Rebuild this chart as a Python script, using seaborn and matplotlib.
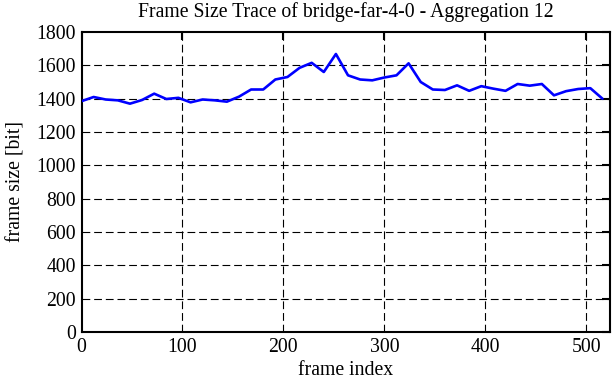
import matplotlib
matplotlib.use("Agg")
import matplotlib.pyplot as plt
import seaborn as sns
import pandas as pd

# frame size trace, aggregated over 12 frames
frame_index = list(range(0, 528, 12))
frame_size = [1385, 1410, 1395, 1390, 1370, 1392, 1430, 1398, 1405, 1378,
              1395, 1390, 1382, 1412, 1455, 1455, 1515, 1530, 1585, 1615,
              1560, 1668, 1540, 1515, 1510, 1527, 1540, 1612, 1500, 1455,
              1452, 1480, 1447, 1475, 1460, 1447, 1488, 1478, 1488, 1420,
              1445, 1458, 1463, 1400]

x_ticks = [0, 100, 200, 300, 400, 500]
y_ticks = [0, 200, 400, 600, 800, 1000, 1200, 1400, 1600, 1800]

df = pd.DataFrame({"frame index": frame_index, "frame size [bit]": frame_size})

sns.set_theme(style="white")
plt.rcParams["font.family"] = ["Liberation Serif", "DejaVu Serif"]
plt.rcParams["text.color"] = "black"
plt.rcParams["axes.labelcolor"] = "black"
fs = 14.2

fig = plt.figure(figsize=(6.12, 3.82), dpi=100)
ax = fig.add_axes([81.5 / 612, 50 / 382, 528 / 612, 300 / 382])

sns.lineplot(data=df, x="frame index", y="frame size [bit]", ax=ax,
             color="#0000ff", linewidth=1.9, zorder=3)

ax.set_xlim(0, 523)
ax.set_ylim(0, 1800)
ax.set_xticks(x_ticks)
ax.set_yticks(y_ticks)

# gnuplot style dashed grid, skipping the border lines
for xv in x_ticks[1:]:
    ax.axvline(xv, color="black", lw=0.8, dashes=(7, 3.5), zorder=1)
for yv in y_ticks[1:-1]:
    ax.axhline(yv, color="black", lw=0.8, dashes=(7, 3.5), zorder=1)

for s in ax.spines.values():
    s.set_linewidth(1.5)
    s.set_color("black")
ax.tick_params(direction="in", length=6, width=1.5, top=True, right=True,
               labelsize=fs, colors="black", pad=4)

ax.set_title("Frame Size Trace of bridge-far-4-0 - Aggregation 12",
             fontsize=fs, pad=11, color="black")
ax.set_xlabel("frame index", fontsize=fs, labelpad=3)
ax.set_ylabel("frame size [bit]", fontsize=fs, labelpad=8)

fig.savefig("out.png", dpi=100)
